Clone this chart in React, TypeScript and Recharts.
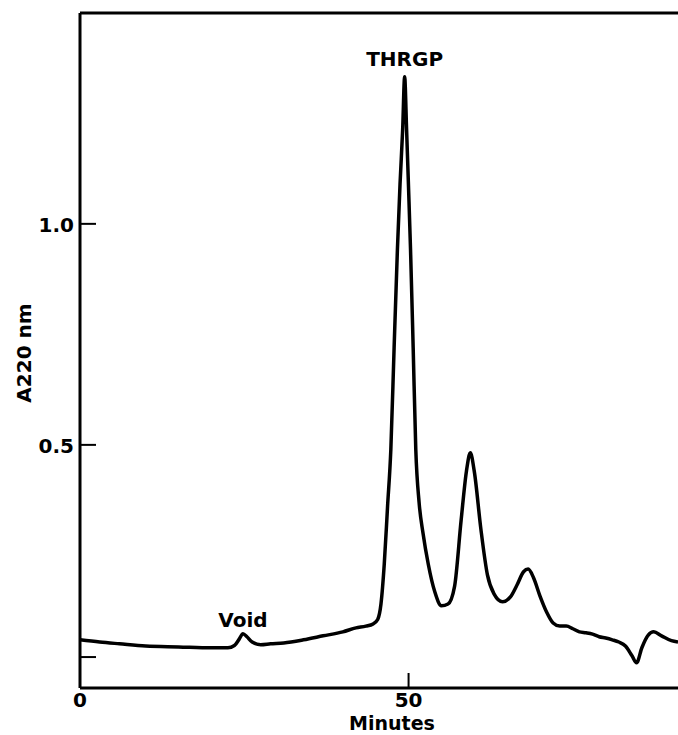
import { LineChart, Line, XAxis, YAxis, ReferenceLine, ReferenceDot } from "recharts";

// elution time (minutes) and absorbance at 220 nm
const minutes = [
  0, 3, 6, 10, 15, 20, 22.5, 23.5, 24.2, 24.8, 25.4, 26.2, 27.5, 29, 31, 34, 37, 40, 42, 43.5,
  44.6, 45.3, 45.8, 46.3, 46.8, 47.3, 47.8, 48.3, 48.7, 49.1, 49.4, 49.7, 50, 50.3, 50.7, 51.1,
  51.6, 52.2, 53, 54, 55, 56, 57, 58, 58.8, 59.4, 60, 61, 62, 63, 64.3, 65.5, 66.5, 67.5, 68.2,
  69, 70, 71, 72, 73, 74, 75, 76, 77, 78, 79, 80, 81, 82, 83, 84, 84.7, 85.5, 86.5, 87.3, 88.5,
  90, 91,
];
const a220 = [
  0.059, 0.054, 0.05, 0.045, 0.043, 0.041, 0.041, 0.046, 0.06, 0.073, 0.066, 0.054, 0.048, 0.05,
  0.052, 0.059, 0.068, 0.077, 0.086, 0.09, 0.095, 0.105, 0.14, 0.23, 0.36, 0.489, 0.72, 0.941,
  1.09, 1.213, 1.333, 1.213, 1.08, 0.941, 0.72, 0.489, 0.37, 0.3, 0.23, 0.167, 0.136, 0.14, 0.18,
  0.33, 0.44, 0.482, 0.44, 0.31, 0.206, 0.163, 0.145, 0.156, 0.183, 0.213, 0.219, 0.2, 0.158,
  0.122, 0.097, 0.09, 0.09, 0.084, 0.077, 0.075, 0.072, 0.066, 0.063, 0.059, 0.054, 0.045, 0.023,
  0.007, 0.041, 0.07, 0.077, 0.068, 0.057, 0.054,
];

const xTicks = [0, 50];
const yTicks = [0.02, 0.5, 1.0];
const yLabels: Record<string, string> = { "0.5": "0.5", "1": "1.0" };

const peaks = [
  { name: "Void", t: 24.8, v: 0.073, offset: 7 },
  { name: "THRGP", t: 49.4, v: 1.333, offset: 11 },
];

const data = minutes.map((t, i) => ({ t, v: a220[i] }));

const font = "'DejaVu Sans', sans-serif";
const yMax = 1.477;

const XTick = (props: any) => {
  const { x, y, payload } = props;
  return (
    <g>
      {payload.value !== 0 && <line x1={x} x2={x} y1={y} y2={y - 15} stroke="#000" strokeWidth={2} />}
      <text x={x} y={y + 19} textAnchor="middle" fontFamily={font} fontWeight="bold" fontSize={20} fill="#000">
        {payload.value}
      </text>
    </g>
  );
};

const YTick = (props: any) => {
  const { x, y, payload } = props;
  const label = yLabels[String(payload.value)];
  return (
    <g>
      <line x1={x} x2={x + 16} y1={y} y2={y} stroke="#000" strokeWidth={2} />
      {label && (
        <text x={x - 6} y={y + 8} textAnchor="end" fontFamily={font} fontWeight="bold" fontSize={20} fill="#000">
          {label}
        </text>
      )}
    </g>
  );
};

export default function App() {
  return (
    <div style={{ position: "absolute", left: 0, top: 0, background: "#fff" }}>
      <LineChart width={678} height={735} data={data} margin={{ top: 13, right: 0, left: 0, bottom: 0 }}>
        <XAxis
          dataKey="t"
          type="number"
          domain={[0, 91]}
          ticks={xTicks}
          tickSize={0}
          tickMargin={0}
          tickLine={false}
          tick={<XTick />}
          height={47}
          axisLine={{ stroke: "#000", strokeWidth: 3 }}
          label={{
            content: () => (
              <text x={392} y={730} textAnchor="middle" fontFamily={font} fontWeight="bold" fontSize={19} fill="#000">
                Minutes
              </text>
            ),
          }}
        />
        <YAxis
          type="number"
          domain={[-0.05, yMax]}
          ticks={yTicks}
          tickSize={0}
          tickMargin={0}
          tickLine={false}
          tick={<YTick />}
          width={80}
          axisLine={{ stroke: "#000", strokeWidth: 3 }}
          label={{
            content: () => (
              <text
                x={24}
                y={353}
                transform="rotate(-90 24 353)"
                textAnchor="middle"
                dominantBaseline="central"
                fontFamily={font}
                fontWeight="bold"
                fontSize={20}
                fill="#000"
              >
                A220 nm
              </text>
            ),
          }}
        />
        <ReferenceLine y={yMax} stroke="#000" strokeWidth={3} />
        {peaks.map((p) => (
          <ReferenceDot
            key={p.name}
            x={p.t}
            y={p.v}
            r={0}
            stroke="none"
            label={{
              value: p.name,
              position: "top",
              offset: p.offset,
              fontFamily: font,
              fontWeight: "bold",
              fontSize: 20,
              fill: "#000",
            }}
          />
        ))}
        <Line
          type="monotone"
          dataKey="v"
          stroke="#000"
          strokeWidth={3.5}
          dot={false}
          isAnimationActive={false}
        />
      </LineChart>
    </div>
  );
}
